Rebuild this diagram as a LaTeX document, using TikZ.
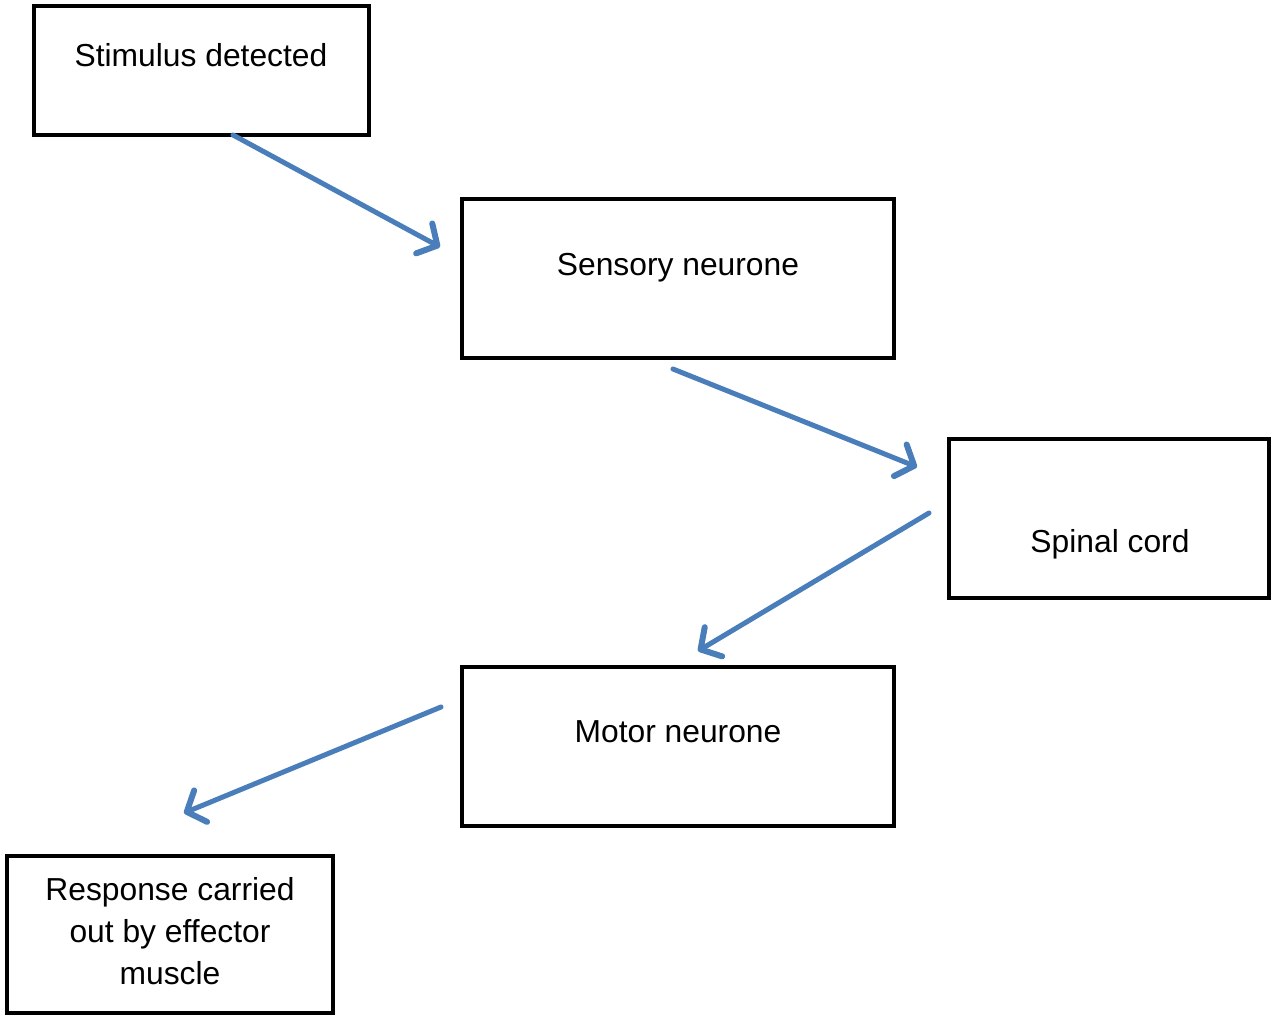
\documentclass[tikz,border=0pt]{standalone}
\usepackage{fontspec}
\setmainfont{Liberation Sans}
\usetikzlibrary{arrows.meta}
\definecolor{flowblue}{HTML}{4A7EBB}
\begin{document}
\begin{tikzpicture}[x=1pt,y=-1pt,
  box/.style={draw=black, line width=4.5pt, rectangle, inner sep=0pt, fill=white},
  lbl/.style={font=\fontsize{31.8}{42}\selectfont, align=center, inner sep=0pt},
  flow/.style={draw=flowblue, line width=5pt, line cap=round, line join=round,
    -{Straight Barb[length=15pt,width=34pt,line width=6pt,round]}}]
\useasboundingbox (0,0) rectangle (1271,1016);
% boxes
\node[box, minimum width=335pt, minimum height=129pt] (stim) at (201.5,70.5) {};
\node[box, minimum width=432pt, minimum height=159pt] (sens) at (678,278.5) {};
\node[box, minimum width=320pt, minimum height=159pt] (spin) at (1109,518.5) {};
\node[box, minimum width=432pt, minimum height=159pt] (motr) at (678,746.5) {};
\node[box, minimum width=326pt, minimum height=157pt] (resp) at (170,934.5) {};
% labels, set on their baselines
\node[lbl, anchor=base] (tstim) at (201,67) {Stimulus detected};
\node[lbl, anchor=base] (tsens) at (678,276) {Sensory neurone};
\node[lbl, anchor=base] (tspin) at (1110,552) {Spinal cord};
\node[lbl, anchor=base] (tmotr) at (678,742) {Motor neurone};
\node[lbl] (tresp) at (170,931) {Response carried\\out by effector\\muscle};
% arrow end points
\coordinate (a1s) at (233,135);
\coordinate (a1e) at (440,247);
\coordinate (a2s) at (673,369);
\coordinate (a2e) at (917,467);
\coordinate (a3s) at (929,513);
\coordinate (a3e) at (698,651);
\coordinate (a4s) at (441,707);
\coordinate (a4e) at (184,813);
% connectors
\draw[flow] (a1s) -- (a1e);
\draw[flow] (a2s) -- (a2e);
\draw[flow] (a3s) -- (a3e);
\draw[flow] (a4s) -- (a4e);
\end{tikzpicture}
\end{document}
